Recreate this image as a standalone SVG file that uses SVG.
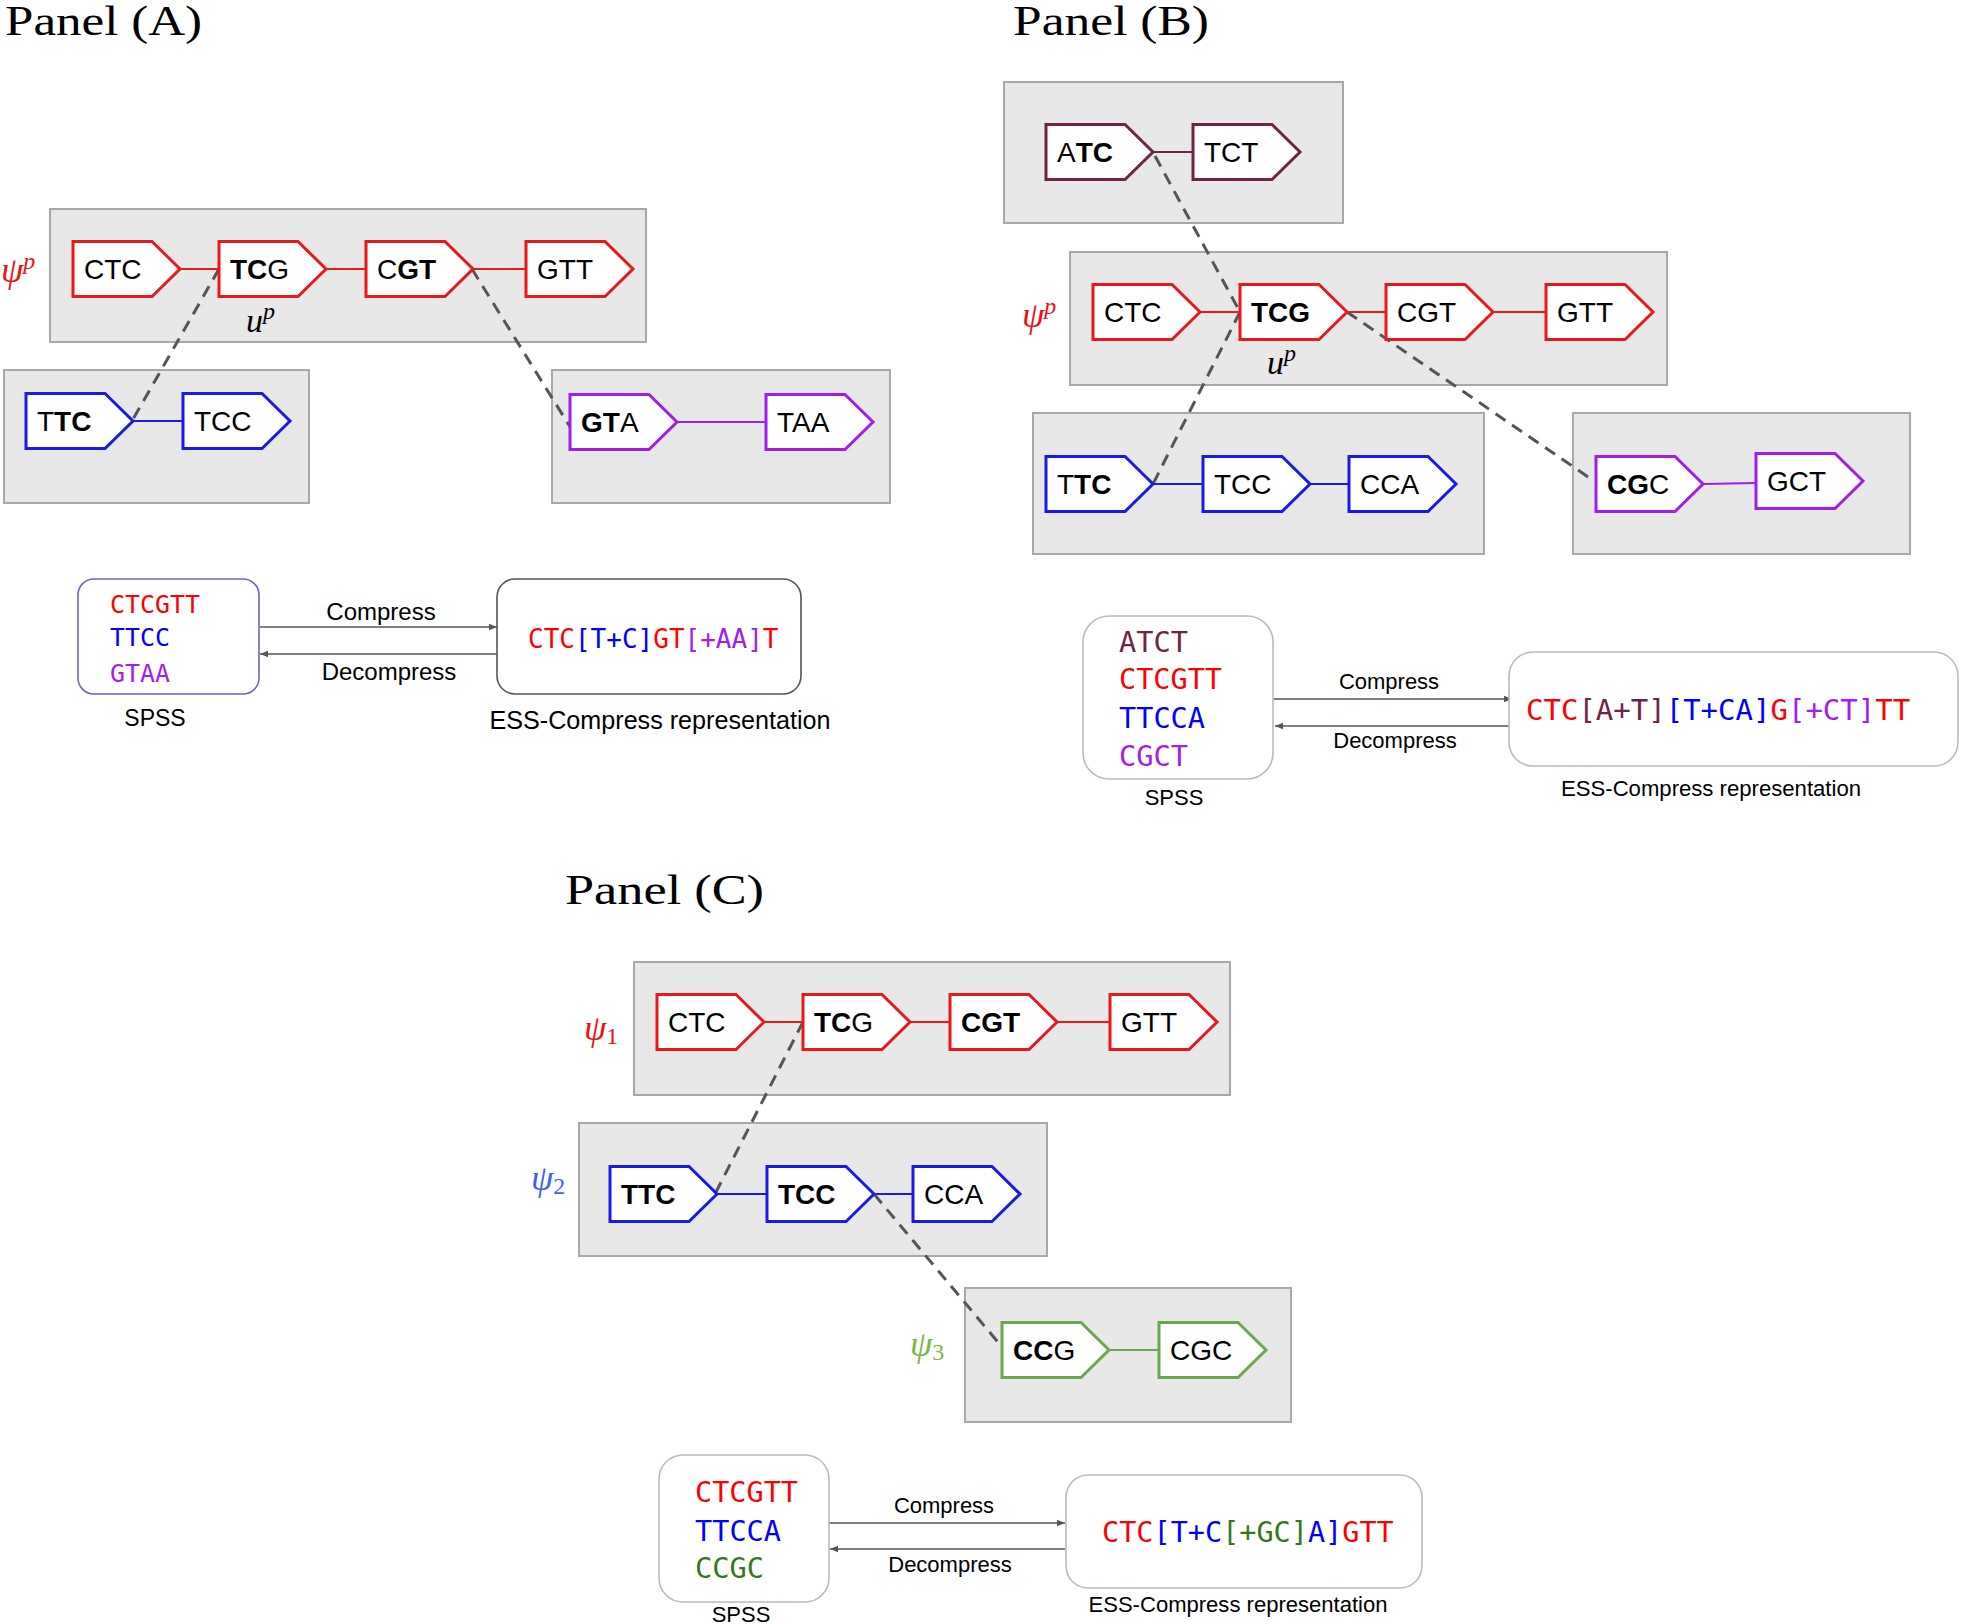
<svg xmlns="http://www.w3.org/2000/svg" width="1961" height="1624" viewBox="0 0 1961 1624">
<defs>
<marker id="ah" viewBox="0 0 10 10" refX="10" refY="5" markerWidth="8" markerHeight="8" markerUnits="userSpaceOnUse" orient="auto"><path d="M0,1 L10,5 L0,9 z" fill="#555"/></marker>
</defs>
<style>
.title{font-family:"Liberation Serif",serif;font-size:42px;fill:#000}
.grp{fill:#e8e8e8;stroke:#a8a8a8;stroke-width:2}
.nd{fill:#fff;stroke-width:3;stroke-linejoin:miter}
.lbl{font-family:"Liberation Sans",Arial,sans-serif;font-size:28px;fill:#000}
.b{font-weight:bold}
.red{stroke:#e8191c}.blue{stroke:#1a1ae6}.pur{stroke:#a11ee8}.mar{stroke:#6e2446}.grn{stroke:#6aa84f}
.lk{stroke-width:2;fill:none}
.dash{stroke:#555;stroke-width:3;stroke-dasharray:12 8;fill:none}
.arr{stroke:#555;stroke-width:1.6;fill:none;marker-end:url(#ah)}
.mono{font-family:"DejaVu Sans Mono",monospace}
.sans{font-family:"Liberation Sans",Arial,sans-serif;fill:#000}
.math{font-family:"Liberation Serif",serif;font-style:italic}
.tr{fill:#ff0000}.tb{fill:#0000ff}.tp{fill:#a020f0}.tm{fill:#6e2446}.tg{fill:#38761d}
</style>

<text class="title" x="5" y="35" textLength="197" lengthAdjust="spacingAndGlyphs">Panel (A)</text>
<text class="title" x="1013" y="35" textLength="196" lengthAdjust="spacingAndGlyphs">Panel (B)</text>
<text class="title" x="565" y="904" textLength="199" lengthAdjust="spacingAndGlyphs">Panel (C)</text>

<!-- ============ PANEL A ============ -->
<g id="A-box-top"><rect class="grp" x="50" y="209" width="596" height="133"/></g>
<g id="A-box-left"><rect class="grp" x="4" y="370" width="305" height="133"/></g>
<g id="A-box-right"><rect class="grp" x="552" y="370" width="338" height="133"/></g>

<g id="A-connectors">
<line class="lk red" x1="180" y1="269" x2="219" y2="269"/>
<line class="lk red" x1="326" y1="269" x2="366" y2="269"/>
<line class="lk red" x1="473" y1="269" x2="526" y2="269"/>
<line class="lk blue" x1="133" y1="421" x2="183" y2="421"/>
<line class="lk pur" x1="677" y1="422" x2="766" y2="422"/>
<line class="dash" x1="219" y1="269" x2="132" y2="421"/>
<line class="dash" x1="472" y1="269" x2="572" y2="430"/>
<line class="arr" x1="260" y1="627" x2="497" y2="627"/>
<line class="arr" x1="497" y1="654" x2="260" y2="654"/>
</g>

<g id="A-CTC"><path class="nd red" d="M73,241.5 h79 l28,27.5 l-28,27.5 h-79 z"/><text class="lbl" x="84" y="279">CTC</text></g>
<g id="A-TCG"><path class="nd red" d="M219,241.5 h79 l28,27.5 l-28,27.5 h-79 z"/><text class="lbl" x="230" y="279"><tspan class="b">TC</tspan>G</text></g>
<g id="A-CGT"><path class="nd red" d="M366,241.5 h79 l28,27.5 l-28,27.5 h-79 z"/><text class="lbl" x="377" y="279">C<tspan class="b">GT</tspan></text></g>
<g id="A-GTT"><path class="nd red" d="M526,241.5 h79 l28,27.5 l-28,27.5 h-79 z"/><text class="lbl" x="537" y="279">GTT</text></g>
<g id="A-TTC"><path class="nd blue" d="M26,393.5 h79 l28,27.5 l-28,27.5 h-79 z"/><text class="lbl" x="37" y="431">T<tspan class="b">TC</tspan></text></g>
<g id="A-TCC"><path class="nd blue" d="M183,393.5 h79 l28,27.5 l-28,27.5 h-79 z"/><text class="lbl" x="194" y="431">TCC</text></g>
<g id="A-GTA"><path class="nd pur" d="M570,394.5 h79 l28,27.5 l-28,27.5 h-79 z"/><text class="lbl" x="581" y="432"><tspan class="b">GT</tspan>A</text></g>
<g id="A-TAA"><path class="nd pur" d="M766,394.5 h79 l28,27.5 l-28,27.5 h-79 z"/><text class="lbl" x="777" y="432">TAA</text></g>

<g id="A-psi"><text class="math" x="1" y="282" font-size="36" fill="#ee1111">ψ<tspan font-size="24" dy="-13">p</tspan></text></g>
<g id="A-up"><text class="math" x="246" y="332" font-size="34" fill="#000">u<tspan font-size="24" dy="-13">p</tspan></text></g>

<g id="A-spss">
<rect x="78" y="579" width="181" height="115" rx="16" fill="#fff" stroke="#7a5ccc" stroke-width="1.6"/>
<text class="mono tr" x="110" y="613" font-size="25" textLength="90" lengthAdjust="spacingAndGlyphs">CTCGTT</text>
<text class="mono tb" x="110" y="646" font-size="25" textLength="60" lengthAdjust="spacingAndGlyphs">TTCC</text>
<text class="mono tp" x="110" y="682" font-size="25" textLength="60" lengthAdjust="spacingAndGlyphs">GTAA</text>
<text class="sans" x="155" y="726" font-size="23" text-anchor="middle">SPSS</text>
</g>
<g id="A-labels">
<text class="sans" x="381" y="620" font-size="24" text-anchor="middle">Compress</text>
<text class="sans" x="389" y="680" font-size="24" text-anchor="middle">Decompress</text>
</g>
<g id="A-ess">
<rect x="497" y="579" width="304" height="115" rx="18" fill="#fff" stroke="#555" stroke-width="1.6"/>
<text class="mono" x="528" y="648" font-size="26"><tspan class="tr">CTC</tspan><tspan class="tb">[T+C]</tspan><tspan class="tr">GT</tspan><tspan class="tp">[+AA]</tspan><tspan class="tr">T</tspan></text>
<text class="sans" x="660" y="729" font-size="25" text-anchor="middle" textLength="341" lengthAdjust="spacingAndGlyphs">ESS-Compress representation</text>
</g>

<!-- ============ PANEL B ============ -->
<g id="B-box-top"><rect class="grp" x="1004" y="82" width="339" height="141"/></g>
<g id="B-box-main"><rect class="grp" x="1070" y="252" width="597" height="133"/></g>
<g id="B-box-left"><rect class="grp" x="1033" y="413" width="451" height="141"/></g>
<g id="B-box-right"><rect class="grp" x="1573" y="413" width="337" height="141"/></g>

<g id="B-connectors">
<line class="lk mar" x1="1153" y1="152" x2="1193" y2="152"/>
<line class="lk red" x1="1200" y1="312" x2="1240" y2="312"/>
<line class="lk red" x1="1347" y1="312" x2="1386" y2="312"/>
<line class="lk red" x1="1493" y1="312" x2="1546" y2="312"/>
<line class="lk blue" x1="1153" y1="484" x2="1203" y2="484"/>
<line class="lk blue" x1="1310" y1="484" x2="1349" y2="484"/>
<line class="lk pur" x1="1703" y1="484" x2="1756" y2="483"/>
<line class="dash" x1="1155" y1="156" x2="1240" y2="312"/>
<line class="dash" x1="1240" y1="312" x2="1153" y2="484"/>
<line class="dash" x1="1347" y1="312" x2="1594" y2="481"/>
<line class="arr" x1="1274" y1="699" x2="1512" y2="699"/>
<line class="arr" x1="1512" y1="726" x2="1275" y2="726"/>
</g>

<g id="B-ATC"><path class="nd mar" d="M1046,124.5 h79 l28,27.5 l-28,27.5 h-79 z"/><text class="lbl" x="1057" y="162">A<tspan class="b">TC</tspan></text></g>
<g id="B-TCT"><path class="nd mar" d="M1193,124.5 h79 l28,27.5 l-28,27.5 h-79 z"/><text class="lbl" x="1204" y="162">TCT</text></g>
<g id="B-CTC"><path class="nd red" d="M1093,284.5 h79 l28,27.5 l-28,27.5 h-79 z"/><text class="lbl" x="1104" y="322">CTC</text></g>
<g id="B-TCG"><path class="nd red" d="M1240,284.5 h79 l28,27.5 l-28,27.5 h-79 z"/><text class="lbl b" x="1251" y="322">TCG</text></g>
<g id="B-CGT"><path class="nd red" d="M1386,284.5 h79 l28,27.5 l-28,27.5 h-79 z"/><text class="lbl" x="1397" y="322">CGT</text></g>
<g id="B-GTT"><path class="nd red" d="M1546,284.5 h79 l28,27.5 l-28,27.5 h-79 z"/><text class="lbl" x="1557" y="322">GTT</text></g>
<g id="B-TTC"><path class="nd blue" d="M1046,456.5 h79 l28,27.5 l-28,27.5 h-79 z"/><text class="lbl" x="1057" y="494">T<tspan class="b">TC</tspan></text></g>
<g id="B-TCC"><path class="nd blue" d="M1203,456.5 h79 l28,27.5 l-28,27.5 h-79 z"/><text class="lbl" x="1214" y="494">TCC</text></g>
<g id="B-CCA"><path class="nd blue" d="M1349,456.5 h79 l28,27.5 l-28,27.5 h-79 z"/><text class="lbl" x="1360" y="494">CCA</text></g>
<g id="B-CGC"><path class="nd pur" d="M1596,456.5 h79 l28,27.5 l-28,27.5 h-79 z"/><text class="lbl" x="1607" y="494"><tspan class="b">CG</tspan>C</text></g>
<g id="B-GCT"><path class="nd pur" d="M1756,453.5 h79 l28,27.5 l-28,27.5 h-79 z"/><text class="lbl" x="1767" y="491">GCT</text></g>

<g id="B-psi"><text class="math" x="1022" y="327" font-size="36" fill="#ee1111">ψ<tspan font-size="24" dy="-13">p</tspan></text></g>
<g id="B-up"><text class="math" x="1267" y="374" font-size="34" fill="#000">u<tspan font-size="24" dy="-13">p</tspan></text></g>

<g id="B-spss">
<rect x="1083" y="616" width="190" height="163" rx="26" fill="#fff" stroke="#bbb" stroke-width="1.6"/>
<text class="mono tm" x="1119" y="652" font-size="28" textLength="69" lengthAdjust="spacingAndGlyphs">ATCT</text>
<text class="mono tr" x="1119" y="689" font-size="28" textLength="103" lengthAdjust="spacingAndGlyphs">CTCGTT</text>
<text class="mono tb" x="1119" y="728" font-size="28" textLength="86" lengthAdjust="spacingAndGlyphs">TTCCA</text>
<text class="mono tp" x="1119" y="766" font-size="28" textLength="69" lengthAdjust="spacingAndGlyphs">CGCT</text>
<text class="sans" x="1174" y="805" font-size="22" text-anchor="middle">SPSS</text>
</g>
<g id="B-labels">
<text class="sans" x="1389" y="689" font-size="22" text-anchor="middle">Compress</text>
<text class="sans" x="1395" y="748" font-size="22" text-anchor="middle">Decompress</text>
</g>
<g id="B-ess">
<rect x="1509" y="652" width="449" height="114" rx="24" fill="#fff" stroke="#bbb" stroke-width="1.6"/>
<text class="mono" x="1526" y="720" font-size="29"><tspan class="tr">CTC</tspan><tspan class="tm">[A+T]</tspan><tspan class="tb">[T+CA]</tspan><tspan class="tr">G</tspan><tspan class="tp">[+CT]</tspan><tspan class="tr">TT</tspan></text>
<text class="sans" x="1711" y="796" font-size="22" text-anchor="middle" textLength="300" lengthAdjust="spacingAndGlyphs">ESS-Compress representation</text>
</g>

<!-- ============ PANEL C ============ -->
<g id="C-box-1"><rect class="grp" x="634" y="962" width="596" height="133"/></g>
<g id="C-box-2"><rect class="grp" x="579" y="1123" width="468" height="133"/></g>
<g id="C-box-3"><rect class="grp" x="965" y="1288" width="326" height="134"/></g>

<g id="C-connectors">
<line class="lk red" x1="763" y1="1022" x2="803" y2="1022"/>
<line class="lk red" x1="909" y1="1022" x2="950" y2="1022"/>
<line class="lk red" x1="1056" y1="1022" x2="1110" y2="1022"/>
<line class="lk blue" x1="715" y1="1194" x2="767" y2="1194"/>
<line class="lk blue" x1="874" y1="1194" x2="913" y2="1194"/>
<line class="lk grn" x1="1109" y1="1350" x2="1159" y2="1350"/>
<line class="dash" x1="803" y1="1022" x2="715" y2="1194"/>
<line class="dash" x1="874" y1="1194" x2="1002" y2="1347"/>
<line class="arr" x1="829" y1="1523" x2="1065" y2="1523"/>
<line class="arr" x1="1065" y1="1549" x2="830" y2="1549"/>
</g>

<g id="C-CTC"><path class="nd red" d="M657,994.5 h79 l28,27.5 l-28,27.5 h-79 z"/><text class="lbl" x="668" y="1032">CTC</text></g>
<g id="C-TCG"><path class="nd red" d="M803,994.5 h79 l28,27.5 l-28,27.5 h-79 z"/><text class="lbl" x="814" y="1032"><tspan class="b">TC</tspan>G</text></g>
<g id="C-CGT"><path class="nd red" d="M950,994.5 h79 l28,27.5 l-28,27.5 h-79 z"/><text class="lbl b" x="961" y="1032">CGT</text></g>
<g id="C-GTT"><path class="nd red" d="M1110,994.5 h79 l28,27.5 l-28,27.5 h-79 z"/><text class="lbl" x="1121" y="1032">GTT</text></g>
<g id="C-TTC"><path class="nd blue" d="M610,1166.5 h79 l28,27.5 l-28,27.5 h-79 z"/><text class="lbl b" x="621" y="1204">TTC</text></g>
<g id="C-TCC"><path class="nd blue" d="M767,1166.5 h79 l28,27.5 l-28,27.5 h-79 z"/><text class="lbl b" x="778" y="1204">TCC</text></g>
<g id="C-CCA"><path class="nd blue" d="M913,1166.5 h79 l28,27.5 l-28,27.5 h-79 z"/><text class="lbl" x="924" y="1204">CCA</text></g>
<g id="C-CCG"><path class="nd grn" d="M1002,1322.5 h79 l28,27.5 l-28,27.5 h-79 z"/><text class="lbl" x="1013" y="1360"><tspan class="b">CC</tspan>G</text></g>
<g id="C-CGC"><path class="nd grn" d="M1159,1322.5 h79 l28,27.5 l-28,27.5 h-79 z"/><text class="lbl" x="1170" y="1360">CGC</text></g>

<g id="C-psi1"><text class="math" x="584" y="1040" font-size="36" fill="#ee1111">ψ<tspan font-style="normal" font-size="24" dy="4">1</tspan></text></g>
<g id="C-psi2"><text class="math" x="531" y="1190" font-size="36" fill="#3f5ff0">ψ<tspan font-style="normal" font-size="24" dy="4">2</tspan></text></g>
<g id="C-psi3"><text class="math" x="910" y="1356" font-size="36" fill="#7ab648">ψ<tspan font-style="normal" font-size="24" dy="4">3</tspan></text></g>

<g id="C-spss">
<rect x="659" y="1455" width="170" height="147" rx="24" fill="#fff" stroke="#bbb" stroke-width="1.6"/>
<text class="mono tr" x="695" y="1502" font-size="28" textLength="103" lengthAdjust="spacingAndGlyphs">CTCGTT</text>
<text class="mono tb" x="695" y="1541" font-size="28" textLength="86" lengthAdjust="spacingAndGlyphs">TTCCA</text>
<text class="mono tg" x="695" y="1578" font-size="28" textLength="69" lengthAdjust="spacingAndGlyphs">CCGC</text>
<text class="sans" x="741" y="1622" font-size="22" text-anchor="middle">SPSS</text>
</g>
<g id="C-labels">
<text class="sans" x="944" y="1513" font-size="22" text-anchor="middle">Compress</text>
<text class="sans" x="950" y="1572" font-size="22" text-anchor="middle">Decompress</text>
</g>
<g id="C-ess">
<rect x="1066" y="1475" width="356" height="113" rx="22" fill="#fff" stroke="#bbb" stroke-width="1.6"/>
<text class="mono" x="1102" y="1542" font-size="28.5"><tspan class="tr">CTC</tspan><tspan class="tb">[T+C</tspan><tspan class="tg">[+GC]</tspan><tspan class="tb">A]</tspan><tspan class="tr">GTT</tspan></text>
<text class="sans" x="1238" y="1612" font-size="22" text-anchor="middle" textLength="299" lengthAdjust="spacingAndGlyphs">ESS-Compress representation</text>
</g>
</svg>
